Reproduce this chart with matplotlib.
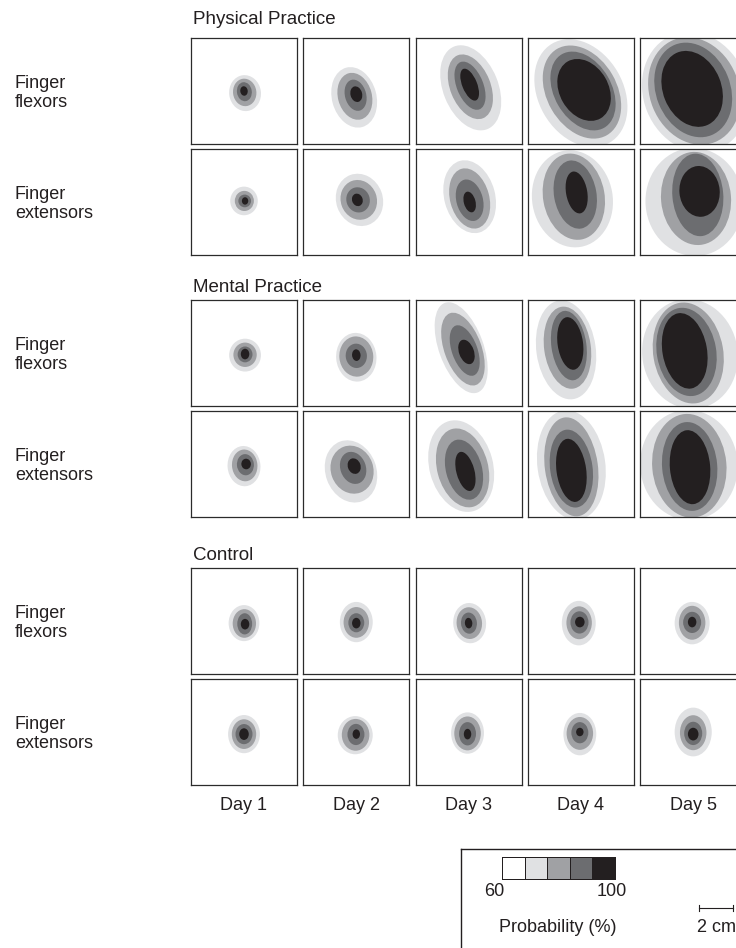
import matplotlib
matplotlib.use("Agg")
import matplotlib.pyplot as plt
from matplotlib.patches import Ellipse
from matplotlib.colors import ListedColormap, BoundaryNorm
import numpy as np

plt.rcParams['font.family'] = ['Liberation Sans', 'DejaVu Sans']

# --- data ------------------------------------------------------------------
days = ['Day 1', 'Day 2', 'Day 3', 'Day 4', 'Day 5']
groups = ['Physical Practice', 'Mental Practice', 'Control']
muscles = ['Finger\nflexors', 'Finger\nextensors']

levels = [60, 68, 76, 84, 92, 100]
level_colors = ['#ffffff', '#e0e1e3', '#a0a1a4', '#6c6d70', '#231f20']

# each cell: ellipse size per probability band (light, mid, dark, core) as
# fraction of the map width, plus tilt (deg) and centres of outer band / core
pp_flex_major = [[0.34, 0.26, 0.18, 0.09], [0.58, 0.45, 0.30, 0.15], [0.84, 0.64, 0.48, 0.32],
                 [1.08, 0.94, 0.80, 0.62], [1.16, 1.04, 0.92, 0.74]]
pp_flex_minor = [[0.30, 0.22, 0.14, 0.07], [0.42, 0.32, 0.20, 0.11], [0.52, 0.38, 0.25, 0.14],
                 [0.80, 0.66, 0.54, 0.46], [0.98, 0.84, 0.70, 0.55]]
pp_flex_tilt = [8, 15, 22, 30, 22]
pp_flex_center = [(0.51, 0.48), (0.48, 0.44), (0.52, 0.53), (0.50, 0.48), (0.52, 0.49)]
pp_flex_core = [(0.50, 0.50), (0.50, 0.47), (0.51, 0.56), (0.53, 0.51), (0.49, 0.52)]

pp_ext_major = [[0.27, 0.19, 0.12, 0.07], [0.50, 0.38, 0.24, 0.12], [0.70, 0.58, 0.40, 0.20],
                [0.92, 0.82, 0.65, 0.40], [1.02, 0.88, 0.78, 0.48]]
pp_ext_minor = [[0.26, 0.18, 0.12, 0.06], [0.44, 0.34, 0.22, 0.10], [0.48, 0.37, 0.25, 0.11],
                [0.76, 0.58, 0.40, 0.20], [0.92, 0.66, 0.48, 0.38]]
pp_ext_tilt = [0, 20, 15, 10, 5]
pp_ext_center = [(0.50, 0.51), (0.53, 0.52), (0.51, 0.55), (0.42, 0.53), (0.51, 0.50)]
pp_ext_core = [(0.51, 0.51), (0.51, 0.52), (0.51, 0.50), (0.46, 0.59), (0.56, 0.60)]

mp_flex_major = [[0.31, 0.23, 0.15, 0.10], [0.46, 0.38, 0.23, 0.11], [0.90, 0.72, 0.50, 0.24],
                 [0.94, 0.78, 0.66, 0.50], [1.04, 0.96, 0.84, 0.72]]
mp_flex_minor = [[0.30, 0.22, 0.14, 0.08], [0.38, 0.32, 0.20, 0.08], [0.42, 0.35, 0.24, 0.14],
                 [0.56, 0.44, 0.33, 0.24], [0.90, 0.66, 0.56, 0.42]]
mp_flex_tilt = [0, 5, 20, 8, 10]
mp_flex_center = [(0.51, 0.48), (0.50, 0.46), (0.43, 0.55), (0.36, 0.53), (0.47, 0.49)]
mp_flex_core = [(0.51, 0.49), (0.50, 0.48), (0.48, 0.51), (0.40, 0.59), (0.42, 0.52)]

mp_ext_major = [[0.38, 0.30, 0.20, 0.10], [0.60, 0.46, 0.31, 0.15], [0.88, 0.76, 0.58, 0.38],
                [1.04, 0.94, 0.74, 0.60], [1.04, 0.98, 0.84, 0.70]]
mp_ext_minor = [[0.31, 0.24, 0.16, 0.09], [0.48, 0.40, 0.24, 0.12], [0.60, 0.48, 0.34, 0.17],
                [0.64, 0.50, 0.40, 0.28], [0.92, 0.70, 0.52, 0.38]]
mp_ext_tilt = [5, 20, 15, 8, 5]
mp_ext_center = [(0.50, 0.48), (0.45, 0.43), (0.43, 0.48), (0.41, 0.49), (0.46, 0.49)]
mp_ext_core = [(0.52, 0.50), (0.48, 0.48), (0.47, 0.43), (0.41, 0.44), (0.47, 0.47)]

c_flex_major = [[0.34, 0.27, 0.20, 0.10], [0.38, 0.29, 0.18, 0.10], [0.38, 0.30, 0.20, 0.10],
                [0.42, 0.31, 0.21, 0.10], [0.40, 0.32, 0.20, 0.10]]
c_flex_minor = [[0.29, 0.22, 0.14, 0.08], [0.31, 0.24, 0.15, 0.08], [0.31, 0.24, 0.15, 0.07],
                [0.32, 0.24, 0.17, 0.09], [0.33, 0.25, 0.17, 0.08]]
c_flex_tilt = [0, 0, 5, 0, 0]
c_flex_center = [(0.50, 0.48), (0.50, 0.49), (0.51, 0.48), (0.48, 0.48), (0.49, 0.48)]
c_flex_core = [(0.51, 0.47), (0.50, 0.48), (0.50, 0.48), (0.49, 0.49), (0.49, 0.49)]

c_ext_major = [[0.36, 0.28, 0.19, 0.11], [0.36, 0.30, 0.20, 0.09], [0.39, 0.32, 0.22, 0.10],
               [0.40, 0.31, 0.20, 0.08], [0.46, 0.33, 0.22, 0.12]]
c_ext_minor = [[0.30, 0.23, 0.16, 0.09], [0.33, 0.26, 0.16, 0.07], [0.31, 0.25, 0.16, 0.07],
               [0.31, 0.25, 0.16, 0.07], [0.35, 0.25, 0.17, 0.10]]
c_ext_tilt = [0, 0, 0, 0, 0]
c_ext_center = [(0.50, 0.48), (0.49, 0.47), (0.49, 0.49), (0.49, 0.48), (0.50, 0.50)]
c_ext_core = [(0.50, 0.48), (0.50, 0.48), (0.49, 0.48), (0.49, 0.50), (0.50, 0.48)]

rows = [
    (pp_flex_major, pp_flex_minor, pp_flex_tilt, pp_flex_center, pp_flex_core),
    (pp_ext_major, pp_ext_minor, pp_ext_tilt, pp_ext_center, pp_ext_core),
    (mp_flex_major, mp_flex_minor, mp_flex_tilt, mp_flex_center, mp_flex_core),
    (mp_ext_major, mp_ext_minor, mp_ext_tilt, mp_ext_center, mp_ext_core),
    (c_flex_major, c_flex_minor, c_flex_tilt, c_flex_center, c_flex_core),
    (c_ext_major, c_ext_minor, c_ext_tilt, c_ext_center, c_ext_core),
]

map_width_cm = 6.2
scale_bar_cm = 2

# --- layout (pixels) -----------------------------------------------------------
W, H = 736, 948
fig = plt.figure(figsize=(W / 100, H / 100), dpi=100)
ink = '#231f20'


def px_axes(x, y, w, h):
    return fig.add_axes([x / W, 1 - (y + h) / H, w / W, h / H])


cell = 106
col_x = [191 + 112.3 * j for j in range(5)]
row_y = [38, 149, 300, 411, 568, 679]
title_y = [20, 287, 555]

for r, (major, minor, tilt, center, core) in enumerate(rows):
    for d in range(5):
        ax = px_axes(col_x[d], row_y[r], cell, cell)
        ax.set_xlim(0, 1)
        ax.set_ylim(0, 1)
        ax.set_xticks([])
        ax.set_yticks([])
        for s in ax.spines.values():
            s.set_linewidth(0.9)
            s.set_color('#2b2b2b')
        c0 = np.array(center[d])
        c1 = np.array(core[d])
        for k in range(4):
            c = c0 + (c1 - c0) * k / 3
            e = Ellipse(c, minor[d][k], major[d][k], angle=tilt[d],
                        facecolor=level_colors[k + 1], edgecolor='none')
            ax.add_patch(e)
    # row label
    ytxt = (row_y[r] + cell / 2 + 2) / H
    fig.text(15 / W, 1 - ytxt, muscles[r % 2], ha='left', va='center',
             fontsize=13, linespacing=1.1, color=ink)

for g, name in enumerate(groups):
    fig.text(193 / W, 1 - title_y[g] / H, name, ha='left', va='center',
             fontsize=13.5, color=ink)

for d, lab in enumerate(days):
    fig.text((col_x[d] + cell / 2) / W, 1 - 805 / H, lab, ha='center',
             va='center', fontsize=13, color=ink)

# --- legend box ------------------------------------------------------------------
leg = px_axes(461, 849, 300, 120)
leg.set_xlim(0, 300)
leg.set_ylim(120, 0)
leg.set_xticks([])
leg.set_yticks([])
for s in leg.spines.values():
    s.set_linewidth(1.0)
    s.set_color(ink)

cax = px_axes(502, 857, 113, 22)
cmap = ListedColormap(level_colors)
norm = BoundaryNorm(levels, cmap.N)
mids = [(a + b) / 2 for a, b in zip(levels[:-1], levels[1:])]
mesh = cax.pcolormesh(levels, [0, 1], [mids], cmap=cmap, norm=norm,
                      edgecolors=ink, linewidth=0.6)
mesh.set_clip_on(False)
cax.set_xlim(levels[0], levels[-1])
cax.set_ylim(0, 1)
cax.axis('off')

leg.text(33, 43, str(levels[0]), ha='center', va='center', fontsize=13, color=ink)
leg.text(151, 43, str(levels[-1]), ha='center', va='center', fontsize=13, color=ink)
leg.text(97, 79, 'Probability (%)', ha='center', va='center', fontsize=13, color=ink)

bar_len = cell * scale_bar_cm / map_width_cm
bx0 = 238
leg.plot([bx0, bx0 + bar_len], [59, 59], color=ink, lw=0.8)
leg.plot([bx0, bx0], [56, 62], color=ink, lw=0.8)
leg.plot([bx0 + bar_len, bx0 + bar_len], [56, 62], color=ink, lw=0.8)
leg.text(bx0 + bar_len / 2, 79, f'{scale_bar_cm} cm', ha='center', va='center',
         fontsize=13, color=ink)

fig.savefig('out.png', dpi=100)
